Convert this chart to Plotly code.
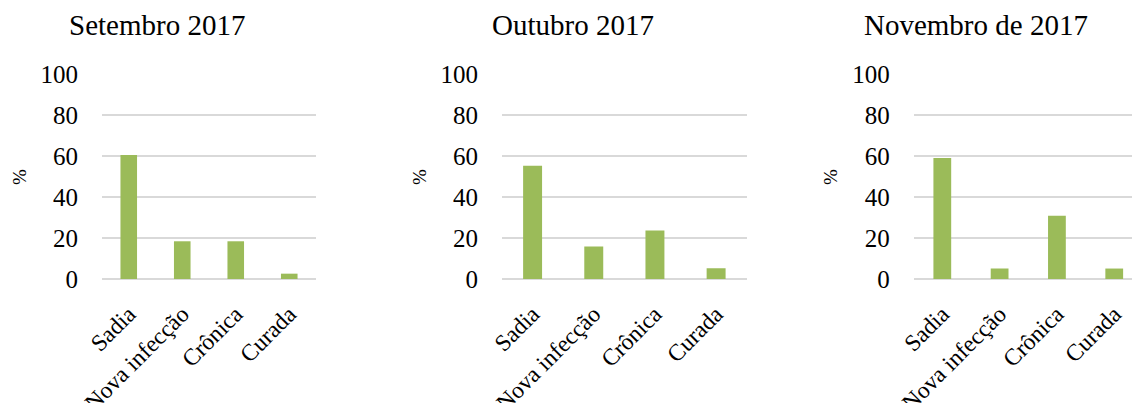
import plotly.graph_objects as go

categories = ["Sadia", "Nova infecção", "Crônica", "Curada"]
months = ["Setembro 2017", "Outubro 2017", "Novembro de 2017"]
setembro = [60.5, 18.4, 18.4, 2.6]
outubro = [55.3, 15.8, 23.7, 5.3]
novembro = [59.0, 5.1, 30.8, 5.1]
y_ticks = [0, 20, 40, 60, 80, 100]

series = [setembro, outubro, novembro]

W, H = 1132, 403
BAR = "#9BBB59"
GRID = "#d9d9d9"
FONT = "Liberation Serif"

# pixel geometry of each panel: (left, right) plot edges and x-range
x_px = [(102, 316), (502, 746.7), (913.65, 1132)]
x_ranges = [[-0.5, 3.5], [-0.5, 3.5], [-0.5, 3.31]]
y_top, y_bot = 74, 279
title_x = [156.5, 572.5, 976]
pct_x = [19, 419, 830]

fig = go.Figure()
for i, vals in enumerate(series):
    n = "" if i == 0 else str(i + 1)
    fig.add_trace(go.Bar(
        x=categories, y=vals, marker_color=BAR, marker_line_width=0,
        xaxis="x" + n, yaxis="y" + n, showlegend=False,
    ))
    fig.layout["xaxis" + n] = dict(
        domain=[x_px[i][0] / W, min(x_px[i][1] / W, 1.0)],
        range=x_ranges[i], type="category", automargin=False,
        anchor="y" + n, tickangle=-45,
        ticks="outside", ticklen=11, tickcolor="rgba(0,0,0,0)",
        tickfont=dict(family=FONT, size=23.5, color="#000"),
        showgrid=False, showline=False, zeroline=False,
    )
    fig.layout["yaxis" + n] = dict(
        domain=[1 - y_bot / H, 1 - y_top / H],
        range=[0, 100], tickvals=y_ticks, automargin=False,
        anchor="x" + n,
        ticks="outside", ticklen=18, tickcolor="rgba(0,0,0,0)",
        tickfont=dict(family=FONT, size=25, color="#000"),
        showgrid=True, gridcolor=GRID, gridwidth=1.5,
        zeroline=True, zerolinecolor=GRID, zerolinewidth=1.5,
        showline=False,
    )
    fig.add_annotation(
        text=months[i], x=title_x[i] / W, y=1 - 25 / H,
        xref="paper", yref="paper", showarrow=False,
        xanchor="center", yanchor="middle",
        font=dict(family=FONT, size=29, color="#000"),
    )
    fig.add_annotation(
        text="%", x=pct_x[i] / W, y=1 - 177 / H,
        xref="paper", yref="paper", showarrow=False, textangle=-90,
        xanchor="center", yanchor="middle",
        font=dict(family=FONT, size=19, color="#000"),
    )

fig.update_layout(
    width=W, height=H,
    margin=dict(l=0, r=0, t=0, b=0, autoexpand=False),
    paper_bgcolor="white", plot_bgcolor="white",
    bargap=0.69,
)

fig.write_html("out.html")
